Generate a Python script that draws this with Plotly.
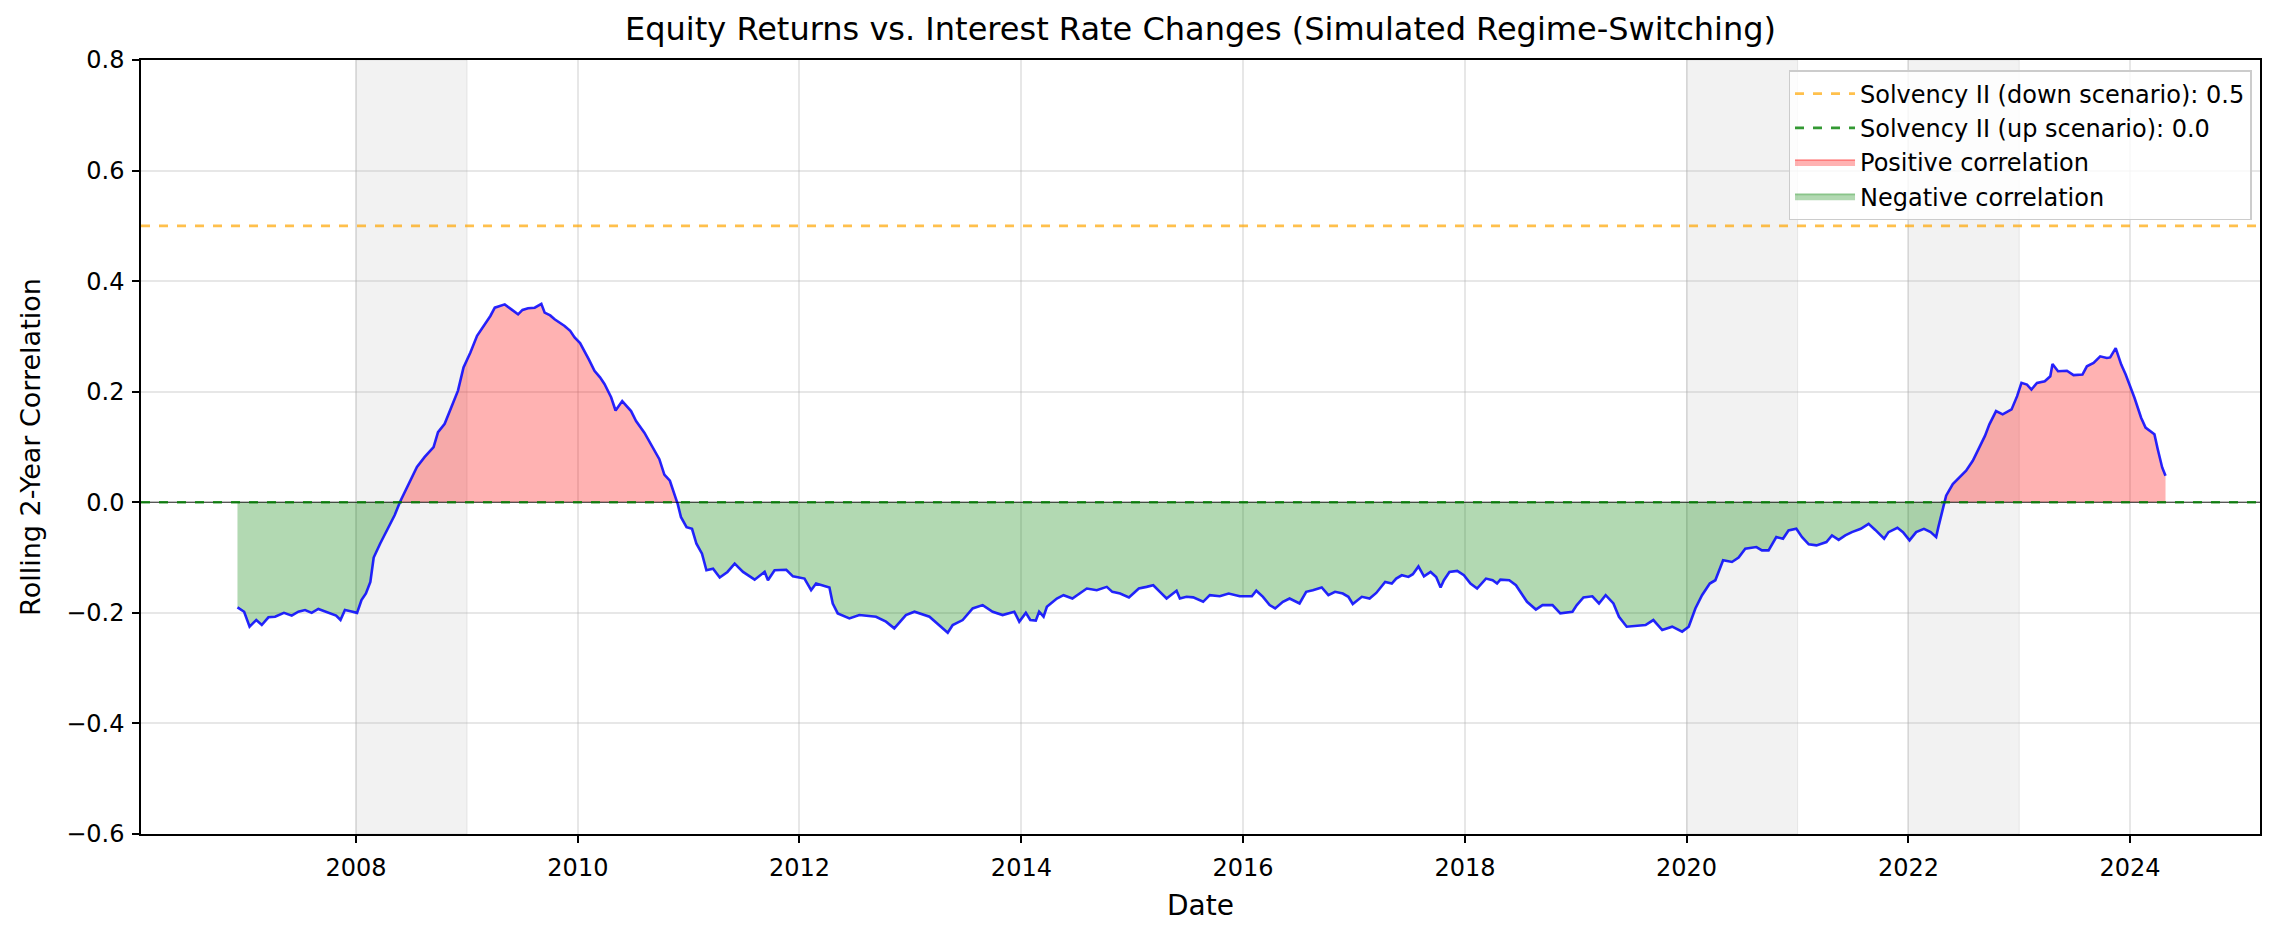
import pandas as pd
import plotly.graph_objects as go

# ---------------- data ----------------
years = [
    2006.93, 2006.99, 2007.04, 2007.10, 2007.15, 2007.21, 2007.27, 2007.35, 2007.42, 2007.48,
    2007.54, 2007.60, 2007.66, 2007.72, 2007.76, 2007.82, 2007.86, 2007.90, 2007.95, 2008.01,
    2008.05, 2008.09, 2008.13, 2008.16, 2008.22, 2008.29, 2008.35, 2008.40, 2008.46, 2008.55,
    2008.62, 2008.70, 2008.74, 2008.80, 2008.86, 2008.92, 2008.97, 2009.03, 2009.09, 2009.15,
    2009.21, 2009.25, 2009.30, 2009.34, 2009.40, 2009.46, 2009.50, 2009.55, 2009.61, 2009.67,
    2009.70, 2009.75, 2009.79, 2009.83, 2009.88, 2009.93, 2009.97, 2010.02, 2010.06, 2010.10,
    2010.15, 2010.20, 2010.24, 2010.30, 2010.34, 2010.40, 2010.48, 2010.525, 2010.60, 2010.66,
    2010.735, 2010.78, 2010.83, 2010.875, 2010.90, 2010.93, 2010.98, 2011.03, 2011.07, 2011.12,
    2011.16, 2011.22, 2011.28, 2011.35, 2011.415, 2011.49, 2011.595, 2011.685, 2011.715, 2011.775,
    2011.88, 2011.94, 2012.045, 2012.105, 2012.15, 2012.27, 2012.30, 2012.345, 2012.45, 2012.54,
    2012.69, 2012.78, 2012.855, 2012.96, 2013.035, 2013.17, 2013.275, 2013.335, 2013.38, 2013.47,
    2013.56, 2013.65, 2013.74, 2013.83, 2013.935, 2013.98, 2014.04, 2014.08, 2014.13, 2014.16,
    2014.20, 2014.23, 2014.32, 2014.38, 2014.46, 2014.53, 2014.59, 2014.68, 2014.77, 2014.82,
    2014.89, 2014.97, 2015.06, 2015.13, 2015.19, 2015.25, 2015.31, 2015.40, 2015.43, 2015.49,
    2015.55, 2015.64, 2015.70, 2015.79, 2015.87, 2015.97, 2016.08, 2016.12, 2016.18, 2016.24,
    2016.29, 2016.36, 2016.42, 2016.51, 2016.57, 2016.63, 2016.71, 2016.77, 2016.83, 2016.90,
    2016.95, 2016.99, 2017.07, 2017.14, 2017.20, 2017.28, 2017.34, 2017.38, 2017.43, 2017.49,
    2017.53, 2017.58, 2017.63, 2017.69, 2017.74, 2017.78, 2017.81, 2017.86, 2017.93, 2017.99,
    2018.05, 2018.11, 2018.19, 2018.25, 2018.29, 2018.32, 2018.40, 2018.46, 2018.52, 2018.56,
    2018.64, 2018.70, 2018.79, 2018.86, 2018.97, 2019.01, 2019.07, 2019.15, 2019.21, 2019.27,
    2019.34, 2019.39, 2019.46, 2019.54, 2019.63, 2019.70, 2019.78, 2019.87, 2019.96, 2020.02,
    2020.08, 2020.14, 2020.21, 2020.26, 2020.30, 2020.33, 2020.41, 2020.47, 2020.53, 2020.63,
    2020.68, 2020.74, 2020.81, 2020.87, 2020.92, 2020.99, 2021.04, 2021.10, 2021.17, 2021.26,
    2021.31, 2021.37, 2021.43, 2021.49, 2021.57, 2021.64, 2021.70, 2021.78, 2021.82, 2021.90,
    2021.95, 2022.01, 2022.07, 2022.14, 2022.20, 2022.25, 2022.27, 2022.31, 2022.34, 2022.40,
    2022.46, 2022.52, 2022.58, 2022.63, 2022.69, 2022.73, 2022.79, 2022.85, 2022.93, 2022.98,
    2023.02, 2023.07, 2023.11, 2023.16, 2023.23, 2023.28, 2023.30, 2023.35, 2023.43, 2023.49,
    2023.57, 2023.61, 2023.67, 2023.73, 2023.79, 2023.82, 2023.87, 2023.92, 2023.96, 2024.04,
    2024.10, 2024.14, 2024.22, 2024.25, 2024.29, 2024.32,
]
correlation = [
    -0.190, -0.198, -0.225, -0.213, -0.222, -0.208, -0.207, -0.200, -0.205, -0.198,
    -0.195, -0.200, -0.193, -0.197, -0.200, -0.205, -0.213, -0.195, -0.197, -0.200,
    -0.177, -0.165, -0.144, -0.100, -0.074, -0.047, -0.023, 0.002, 0.028, 0.064,
    0.082, 0.100, 0.127, 0.142, 0.172, 0.202, 0.244, 0.271, 0.301, 0.319,
    0.337, 0.352, 0.356, 0.358, 0.349, 0.340, 0.348, 0.351, 0.352, 0.359,
    0.343, 0.338, 0.331, 0.326, 0.319, 0.310, 0.298, 0.288, 0.274, 0.258,
    0.238, 0.226, 0.214, 0.190, 0.166, 0.183, 0.165, 0.147, 0.126, 0.105,
    0.078, 0.050, 0.039, 0.012, -0.003, -0.027, -0.045, -0.048, -0.075, -0.093,
    -0.123, -0.120, -0.136, -0.126, -0.111, -0.126, -0.140, -0.126, -0.141, -0.123,
    -0.122, -0.134, -0.138, -0.159, -0.147, -0.154, -0.183, -0.201, -0.210, -0.204,
    -0.207, -0.216, -0.228, -0.204, -0.198, -0.207, -0.225, -0.236, -0.222, -0.213,
    -0.192, -0.186, -0.198, -0.204, -0.198, -0.216, -0.200, -0.213, -0.214, -0.198,
    -0.207, -0.189, -0.174, -0.168, -0.174, -0.165, -0.156, -0.159, -0.153, -0.162,
    -0.165, -0.172, -0.156, -0.153, -0.150, -0.162, -0.174, -0.160, -0.174, -0.171,
    -0.172, -0.180, -0.168, -0.170, -0.165, -0.170, -0.170, -0.160, -0.171, -0.186,
    -0.192, -0.180, -0.174, -0.183, -0.162, -0.159, -0.154, -0.168, -0.162, -0.165,
    -0.171, -0.184, -0.171, -0.174, -0.164, -0.144, -0.147, -0.138, -0.132, -0.135,
    -0.130, -0.116, -0.134, -0.126, -0.135, -0.154, -0.141, -0.126, -0.124, -0.132,
    -0.147, -0.156, -0.138, -0.141, -0.147, -0.140, -0.141, -0.150, -0.168, -0.180,
    -0.194, -0.186, -0.186, -0.201, -0.198, -0.186, -0.172, -0.170, -0.183, -0.168,
    -0.183, -0.207, -0.225, -0.224, -0.222, -0.213, -0.231, -0.225, -0.234, -0.225,
    -0.192, -0.168, -0.147, -0.141, -0.120, -0.105, -0.108, -0.100, -0.084, -0.081,
    -0.087, -0.087, -0.063, -0.066, -0.051, -0.048, -0.063, -0.076, -0.078, -0.072,
    -0.060, -0.068, -0.060, -0.054, -0.048, -0.039, -0.050, -0.066, -0.054, -0.046,
    -0.054, -0.069, -0.054, -0.048, -0.054, -0.063, -0.045, -0.009, 0.012, 0.033,
    0.045, 0.057, 0.075, 0.096, 0.120, 0.141, 0.165, 0.159, 0.168, 0.192,
    0.216, 0.213, 0.204, 0.216, 0.219, 0.228, 0.250, 0.237, 0.238, 0.230,
    0.231, 0.246, 0.252, 0.264, 0.261, 0.262, 0.279, 0.249, 0.231, 0.189,
    0.153, 0.135, 0.123, 0.096, 0.063, 0.048,
]
crisis_periods = [("2008-01-01", "2009-01-01"), ("2020-01-01", "2021-01-01"), ("2022-01-01", "2023-01-01")]
solvency_down = 0.5
solvency_up = 0.0
y_ticks = [-0.6, -0.4, -0.2, 0.0, 0.2, 0.4, 0.6, 0.8]


def to_date(y):
    base = pd.Timestamp(year=int(y), month=1, day=1)
    return base + pd.Timedelta(days=(y - int(y)) * 365.25)


dates = [to_date(y) for y in years]
pos = [max(v, 0.0) for v in correlation]
neg = [min(v, 0.0) for v in correlation]

FONT = "DejaVu Sans"
# page body has an 8px default margin: shrink the figure so the plot lands where the reference has it
W, H = 2274, 930
ML, MR, MT, MB = 133, 22, 52, 104

fig = go.Figure()

for s, e in crisis_periods:
    fig.add_shape(type="rect", xref="x", yref="paper", x0=s, x1=e, y0=0, y1=1,
                  fillcolor="rgba(128,128,128,0.1)", line=dict(color="rgba(128,128,128,0.15)", width=1),
                  layer="below")

# zero reference line (thin black)
fig.add_shape(type="line", xref="paper", yref="y", x0=0, x1=1, y0=0, y1=0,
              line=dict(color="black", width=0.8), layer="above")

fig.add_trace(go.Scatter(x=dates, y=pos, mode="lines", line=dict(width=0, color="rgba(255,0,0,0)"),
                         fill="tozeroy", fillcolor="rgba(255,0,0,0.3)", showlegend=False, hoverinfo="skip"))
fig.add_trace(go.Scatter(x=dates, y=neg, mode="lines", line=dict(width=0, color="rgba(0,128,0,0)"),
                         fill="tozeroy", fillcolor="rgba(0,128,0,0.3)", showlegend=False, hoverinfo="skip"))

fig.add_trace(go.Scatter(x=dates, y=correlation, mode="lines", line=dict(color="rgba(0,0,255,0.85)", width=2.6),
                         showlegend=False, name="Rolling correlation"))

# horizontal Solvency II lines
fig.add_shape(type="line", xref="paper", yref="y", x0=0, x1=1, y0=solvency_down, y1=solvency_down,
              line=dict(color="rgba(255,165,0,0.7)", width=2.6, dash="dash"), layer="above")
fig.add_shape(type="line", xref="paper", yref="y", x0=0, x1=1, y0=solvency_up, y1=solvency_up,
              line=dict(color="rgba(0,128,0,0.8)", width=2.6, dash="dash"), layer="above")

# legend entries
fig.add_trace(go.Scatter(x=[None], y=[None], mode="lines", name=f"Solvency II (down scenario): {solvency_down}",
                         line=dict(color="rgba(255,165,0,0.7)", width=2.6, dash="dash")))
fig.add_trace(go.Scatter(x=[None], y=[None], mode="lines", name=f"Solvency II (up scenario): {solvency_up}",
                         line=dict(color="rgba(0,128,0,0.8)", width=2.6, dash="dash")))
fig.add_trace(go.Scatter(x=[None, None], y=[None, None], mode="lines", name="Positive correlation",
                         fill="toself", fillcolor="rgba(255,0,0,0.3)", line=dict(color="rgba(255,0,0,0.3)", width=2)))
fig.add_trace(go.Scatter(x=[None, None], y=[None, None], mode="lines", name="Negative correlation",
                         fill="toself", fillcolor="rgba(0,128,0,0.3)", line=dict(color="rgba(0,128,0,0.3)", width=2)))

axis_common = dict(showline=True, linecolor="black", linewidth=1.5, mirror=True, automargin=False,
                   ticks="outside", ticklen=7, tickwidth=1.5, tickcolor="black",
                   showgrid=True, gridcolor="rgba(176,176,176,0.3)", gridwidth=1.5,
                   zeroline=False, tickfont=dict(family=FONT, size=24, color="black"))

fig.update_layout(
    width=W, height=H,
    margin=dict(l=ML, r=MR, t=MT, b=MB),
    paper_bgcolor="white", plot_bgcolor="white",
    font=dict(family=FONT, color="black"),
    title=dict(text="Equity Returns vs. Interest Rate Changes (Simulated Regime-Switching)",
               x=(ML + (W - MR)) / 2 / W, xanchor="center", y=1 - 21 / H, yanchor="middle",
               font=dict(family=FONT, size=32, color="black")),
    xaxis=dict(**axis_common, type="date", range=[to_date(2006.06), to_date(2025.17)],
               tick0="2008-01-01", dtick="M24", tickformat="%Y", ticklabelstandoff=4,
               title=dict(text="Date", font=dict(family=FONT, size=28), standoff=15)),
    yaxis=dict(**axis_common, range=[-0.6, 0.8], tickvals=y_ticks, tickformat=".1f", ticklabelstandoff=3,
               title=dict(text="Rolling 2-Year Correlation", font=dict(family=FONT, size=27), standoff=18)),
    legend=dict(x=0.996, y=0.987, xanchor="right", yanchor="top",
                bgcolor="rgba(255,255,255,0.8)", bordercolor="#cccccc", borderwidth=1.5,
                font=dict(family=FONT, size=24, color="black"), itemwidth=60,
                tracegroupgap=4),
    showlegend=True,
)

fig.write_html("out.html")
